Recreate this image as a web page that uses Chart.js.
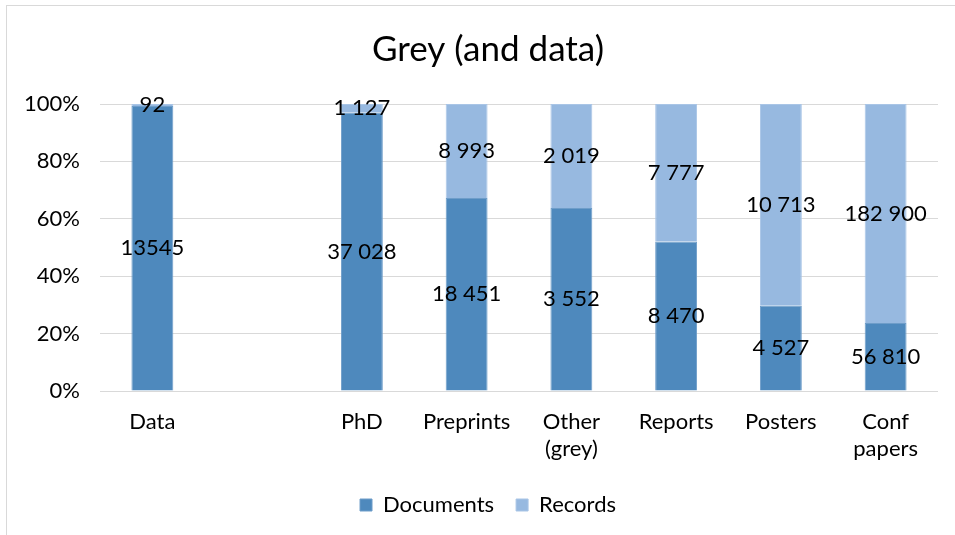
<!DOCTYPE html>
<html>
<head>
<meta charset="utf-8">
<script src="https://cdn.jsdelivr.net/npm/chart.js@4"></script>
<style>
  html, body { margin: 0; padding: 0; background: #fff; }
  #wrap { position: absolute; left: 6px; top: 5px; width: 949px; height: 530px;
          border-left: 1px solid #d9d9d9; border-top: 1px solid #d9d9d9; }
</style>
</head>
<body>
<div id="wrap"><canvas id="myChart"></canvas></div>
<script>
// categories (the blank one keeps the gap after Data)
const categories = ['Data', '', 'PhD', 'Preprints', ['Other', '(grey)'], 'Reports', 'Posters', ['Conf', 'papers']];
const documents = [13545, null, 37028, 18451, 3552, 8470, 4527, 56810];
const records = [92, null, 1127, 8993, 2019, 7777, 10713, 182900];
const docLabels = ['13545', '', '37 028', '18 451', '3 552', '8 470', '4 527', '56 810'];
const recLabels = ['92', '', '1 127', '8 993', '2 019', '7 777', '10 713', '182 900'];
const yTicks = [0, 20, 40, 60, 80, 100];

const FONT = 'Lato, "Liberation Sans", sans-serif';

// 100% stacked: share of each series in its category
function share(a, b) {
  return a.map((v, i) => v == null ? null : v / (v + b[i]) * 100);
}
const docShare = share(documents, records);
const recShare = share(records, documents);

// little inline label plugin (no datalabels plugin offline)
const barLabels = {
  id: 'barLabels',
  afterDatasetsDraw(chart) {
    const ctx = chart.ctx;
    ctx.save();
    ctx.font = '22px ' + FONT;
    ctx.fillStyle = '#000';
    ctx.textAlign = 'center';
    ctx.textBaseline = 'middle';
    chart.data.datasets.forEach((ds, di) => {
      const meta = chart.getDatasetMeta(di);
      meta.data.forEach((bar, i) => {
        const txt = ds.labelTexts[i];
        if (!txt) return;
        const p = bar.getProps(['x', 'y', 'base'], true);
        ctx.fillText(txt, p.x, (p.y + p.base) / 2);
      });
    });
    ctx.restore();
  }
};

const config = {
  type: 'bar',
  data: {
    labels: categories,
    datasets: [
      {
        label: 'Documents',
        data: docShare,
        labelTexts: docLabels,
        backgroundColor: '#4e89bd',
        borderColor: '#6e9dc9',
        borderWidth: 1,
        categoryPercentage: 1,
        barPercentage: 0.4
      },
      {
        label: 'Records',
        data: recShare,
        labelTexts: recLabels,
        backgroundColor: '#97b9e0',
        borderColor: '#a9c5e6',
        borderWidth: 1,
        categoryPercentage: 1,
        barPercentage: 0.4
      }
    ]
  },
  options: {
    responsive: false,
    animation: false,
    // uneven side padding shifts title/legend centre right like the original
    layout: { padding: { left: 13, right: 0, top: 0, bottom: 10 } },
    scales: {
      x: {
        stacked: true,
        grid: { display: false, drawTicks: false },
        border: { display: false },
        ticks: { color: '#000', font: { size: 22, family: FONT }, padding: 18, maxRotation: 0, autoSkip: false },
        afterFit(scale) { scale.height = 81; }
      },
      y: {
        stacked: true,
        min: 0,
        max: 100,
        afterBuildTicks(scale) { scale.ticks = yTicks.map(v => ({ value: v })); },
        grid: { color: '#d9d9d9', lineWidth: 1, drawTicks: false },
        border: { display: false },
        ticks: { color: '#000', font: { size: 22, family: FONT }, padding: 20,
                 callback: v => v + '%' },
        afterFit(scale) { scale.width = 80; }
      },
      // empty spacer on the right
      yPad: {
        position: 'right',
        grid: { display: false, drawTicks: false },
        border: { display: false },
        ticks: { display: false },
        afterFit(scale) { scale.width = 18; }
      }
    },
    plugins: {
      title: {
        display: true,
        text: 'Grey (and data)',
        color: '#000',
        font: { size: 35, family: FONT, weight: 'normal' },
        padding: { top: 23, bottom: 33 }
      },
      legend: {
        position: 'bottom',
        labels: { color: '#000', font: { size: 22, family: FONT }, boxWidth: 12, boxHeight: 12, padding: 22 }
      },
      tooltip: { enabled: false }
    }
  },
  plugins: [barLabels]
};

const cv = document.getElementById('myChart');
cv.width = 949;
cv.height = 530;
const myChart = new Chart(cv, config);
</script>
</body>
</html>
